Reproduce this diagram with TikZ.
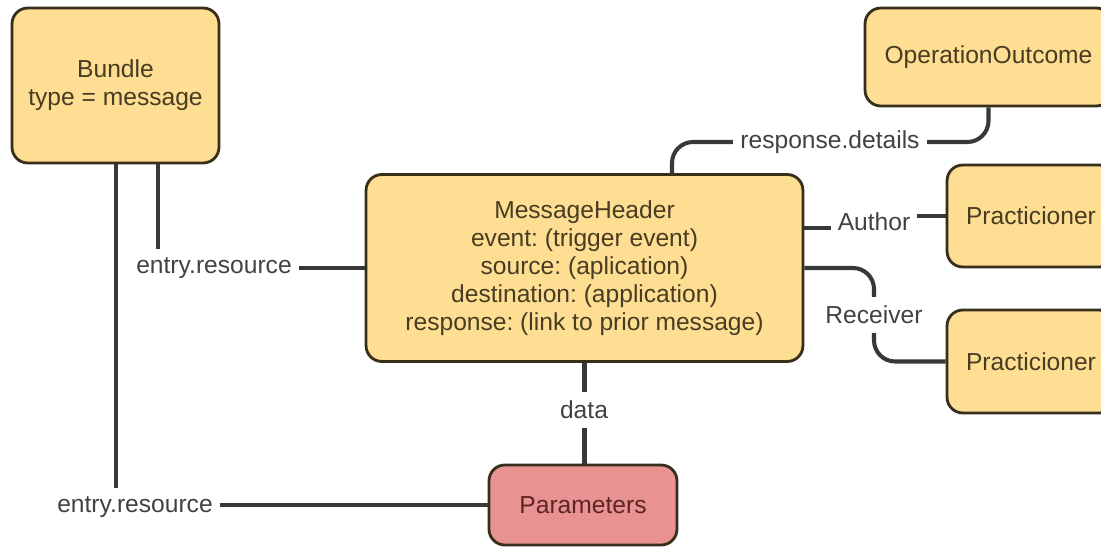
\documentclass[tikz,border=0pt]{standalone}
\usepackage{fontspec}
\setmainfont{Liberation Sans}
\usetikzlibrary{positioning}
\frenchspacing
\definecolor{boxfill}{RGB}{253,222,146}
\definecolor{parfill}{RGB}{232,146,145}
\definecolor{boxedge}{RGB}{56,46,28}
\definecolor{linegray}{RGB}{56,56,56}
\definecolor{txtgray}{RGB}{66,66,66}
\definecolor{txtbrown}{RGB}{72,60,34}
\definecolor{txtred}{RGB}{92,36,36}
\tikzset{%
	res/.style={draw=boxedge, line width=1.6pt, rounded corners=9pt, fill=boxfill,%
		align=center, inner sep=0mm, text=txtbrown, font=\fontsize{14}{16}\selectfont},
	param/.style={res, fill=parfill, text=txtred},
	link/.style={draw=linegray, line width=2.3pt},
	lbl/.style={fill=white, text=txtgray, inner xsep=4pt, inner ysep=5pt,%
		font=\fontsize{14}{16}\selectfont}
}
\begin{document}
\begin{tikzpicture}[x=0.02cm, y=-0.02cm]
	\clip (0,0) rectangle (1101,547);
	\fill[white] (0,0) rectangle (1101,547);

	\node[res, minimum width=4.14cm, minimum height=3.1cm] (bundle) at (115.5,85.5) {Bundle\\type = message};
	\node[res, minimum width=4.94cm, minimum height=1.96cm] (outcome) at (988.5,57) {OperationOutcome};
	\node[res, minimum width=8.74cm, minimum height=3.74cm] (header) at (584.5,268)
		{MessageHeader\\event: (trigger event)\\source: (aplication)\\destination: (application)\\response: (link to prior message)};
	\node[res, minimum width=3.36cm, minimum height=2.04cm] (author) at (1031,216) {Practicioner};
	\node[res, minimum width=3.36cm, minimum height=2.06cm] (receiver) at (1031,361.5) {Practicioner};
	\node[param, minimum width=3.76cm, minimum height=1.6cm] (params) at (583,505) {Parameters};

	\coordinate (entryA) at (214,268);
	\coordinate (entryB) at (135,507);
	\coordinate (details) at (830,142);
	\coordinate (auth) at (874,222);
	\coordinate (recv) at (874,315);

	% bundle entries
	\draw[link] ([xshift=0.85cm]bundle.south) |- (header.west);
	\draw[link] ([xshift=0.01cm]bundle.south) |- (params.west);

	% header links
	\draw[link, rounded corners=12pt] ([xshift=1.75cm]header.north) |- (outcome.south |- details) -- (outcome.south);
	\draw[link] ([yshift=0.8cm]header.east) -| (auth) |- (author.west);
	\draw[link, rounded corners=12pt] (header.east) -| (recv) |- (receiver.west);
	\draw[link] (header.south) -- (header.south |- params.north);

	\node[lbl] at (entryA) {entry.resource};
	\node[lbl] at (entryB) {entry.resource};
	\node[lbl] at (details) {response.details};
	\node[lbl] at (auth) {Author};
	\node[lbl] at (recv) {Receiver};
	\node[lbl] at (584,410) {data};
\end{tikzpicture}
\end{document}
